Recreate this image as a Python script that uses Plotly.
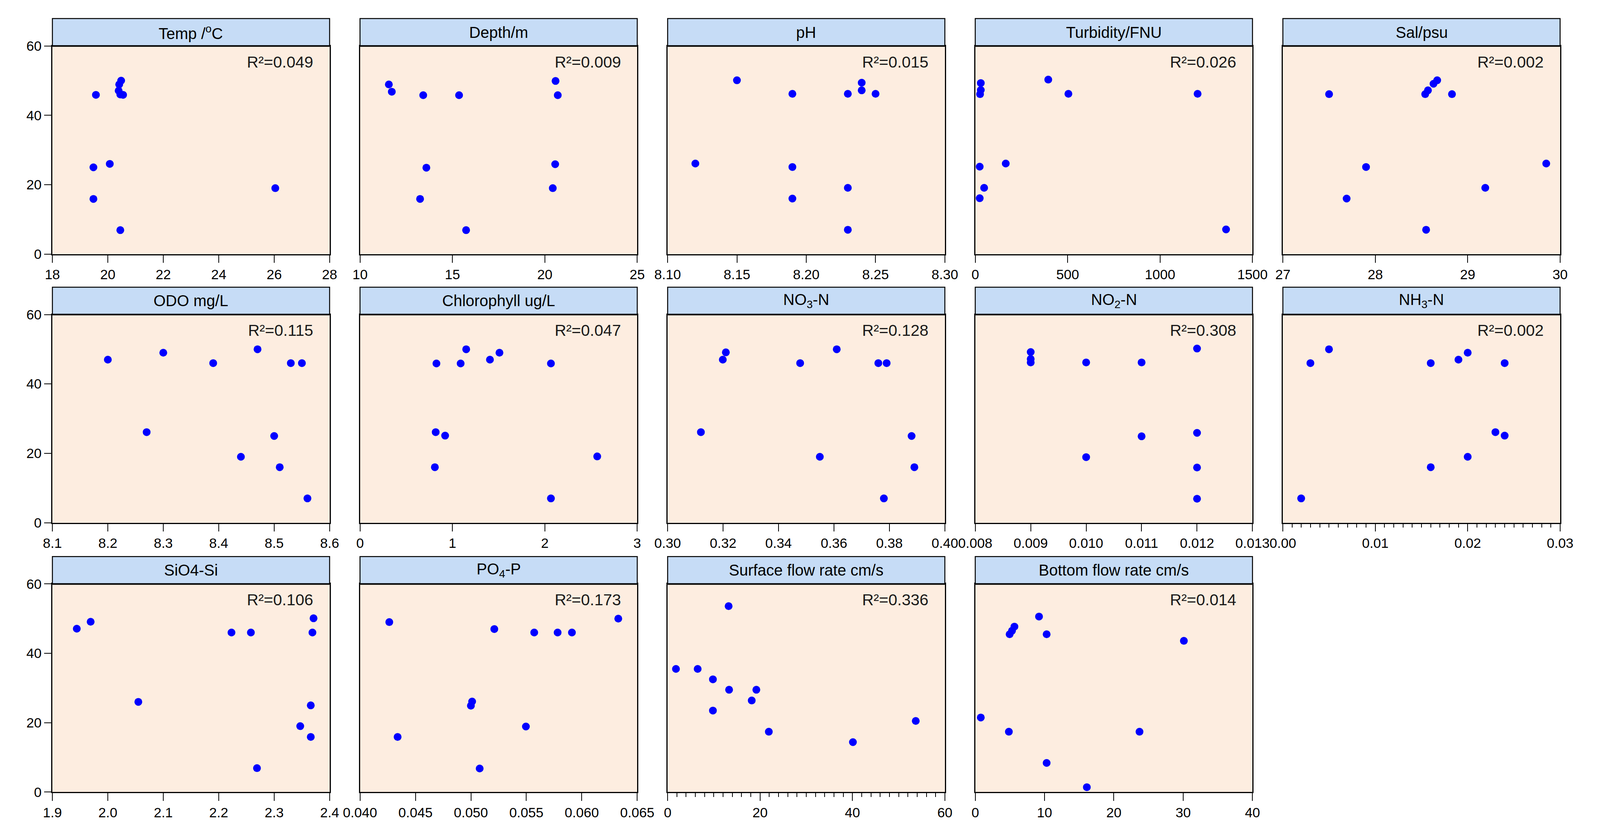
import plotly.graph_objects as go

# values, one pair of lists per panel
temp_x = [19.57, 20.48, 20.41, 20.39, 20.45, 20.55, 19.48, 20.07, 19.48, 20.45, 26.04]
temp_y = [45.9, 50.0, 48.9, 47.1, 46.0, 45.9, 25.0, 26.0, 15.9, 6.9, 19.0]

depth_x = [11.56, 11.72, 13.42, 15.36, 20.58, 20.70, 13.59, 20.56, 13.25, 20.43, 15.74]
depth_y = [48.9, 46.8, 45.8, 45.8, 49.9, 45.8, 24.9, 25.9, 15.9, 19.0, 6.9]

ph_x = [8.150, 8.190, 8.230, 8.240, 8.240, 8.250, 8.120, 8.190, 8.230, 8.190, 8.230]
ph_y = [50.1, 46.2, 46.2, 49.4, 47.2, 46.2, 26.1, 25.1, 19.1, 16.0, 7.0]

turb_x = [30, 30, 26, 395, 504, 1203, 24, 165, 48, 24, 1357]
turb_y = [49.3, 47.3, 46.1, 50.3, 46.2, 46.2, 25.2, 26.1, 19.1, 16.1, 7.1]

sal_x = [27.50, 28.54, 28.57, 28.63, 28.67, 28.83, 27.90, 29.85, 29.19, 27.69, 28.55]
sal_y = [46.1, 46.1, 47.2, 49.1, 50.1, 46.1, 25.1, 26.1, 19.1, 16.0, 7.0]

odo_x = [8.200, 8.300, 8.390, 8.470, 8.530, 8.550, 8.270, 8.500, 8.440, 8.510, 8.560]
odo_y = [47.0, 49.0, 46.0, 50.0, 46.0, 46.0, 26.1, 25.0, 19.0, 16.0, 7.0]

chl_x = [0.827, 1.089, 1.149, 1.406, 1.509, 2.066, 0.819, 0.921, 0.810, 2.567, 2.066]
chl_y = [45.9, 45.9, 50.0, 47.0, 49.0, 45.9, 26.1, 25.1, 16.0, 19.1, 7.0]

no3_x = [0.3210, 0.3199, 0.3478, 0.3610, 0.3760, 0.3790, 0.3120, 0.3880, 0.3549, 0.3890, 0.3780]
no3_y = [49.1, 47.0, 46.0, 50.0, 46.0, 46.0, 26.1, 25.0, 19.0, 16.0, 7.0]

no2_x = [0.009, 0.009, 0.009, 0.010, 0.011, 0.012, 0.012, 0.011, 0.010, 0.012, 0.012]
no2_y = [49.2, 47.2, 46.2, 46.2, 46.2, 50.2, 25.9, 24.9, 18.9, 15.9, 6.9]

nh3_x = [0.00298, 0.00499, 0.0160, 0.0190, 0.0200, 0.0240, 0.0230, 0.0240, 0.0200, 0.0160, 0.00198]
nh3_y = [46.0, 50.0, 46.0, 47.0, 49.0, 46.0, 26.1, 25.1, 19.0, 16.0, 7.0]

sio4_x = [1.944, 1.969, 2.223, 2.258, 2.371, 2.369, 2.055, 2.366, 2.347, 2.366, 2.269]
sio4_y = [47.1, 49.1, 46.0, 46.0, 50.1, 46.0, 26.0, 25.0, 19.0, 15.9, 6.9]

po4_x = [0.04264, 0.05211, 0.05571, 0.05782, 0.05911, 0.06329, 0.05011, 0.05000, 0.05496, 0.04339, 0.05079]
po4_y = [49.0, 47.0, 46.0, 46.0, 46.0, 50.0, 26.1, 24.9, 18.9, 15.9, 6.8]

surf_x = [13.2, 1.8, 6.5, 9.8, 13.3, 19.2, 18.2, 9.8, 53.7, 21.9, 40.1]
surf_y = [53.6, 35.5, 35.5, 32.5, 29.5, 29.5, 26.4, 23.5, 20.5, 17.4, 14.4]

bot_x = [9.2, 5.65, 5.3, 4.96, 10.3, 30.1, 0.8, 4.85, 23.7, 10.3, 16.1]
bot_y = [50.6, 47.7, 46.5, 45.5, 45.5, 43.6, 21.5, 17.4, 17.4, 8.4, 1.4]

titles = ["Temp /<sup>o</sup>C", "Depth/m", "pH", "Turbidity/FNU", "Sal/psu",
          "ODO mg/L", "Chlorophyll ug/L", "NO<sub>3</sub>-N", "NO<sub>2</sub>-N", "NH<sub>3</sub>-N",
          "SiO4-Si", "PO<sub>4</sub>-P", "Surface flow rate cm/s", "Bottom flow rate cm/s"]
r2_labels = ["0.049", "0.009", "0.015", "0.026", "0.002",
             "0.115", "0.047", "0.128", "0.308", "0.002",
             "0.106", "0.173", "0.336", "0.014"]
xs = [temp_x, depth_x, ph_x, turb_x, sal_x, odo_x, chl_x, no3_x, no2_x, nh3_x,
      sio4_x, po4_x, surf_x, bot_x]
ys = [temp_y, depth_y, ph_y, turb_y, sal_y, odo_y, chl_y, no3_y, no2_y, nh3_y,
      sio4_y, po4_y, surf_y, bot_y]

# axis range, tick step, tick format, minor tick step
x_axes = [
    ([18, 28], 2, "d", None),
    ([10, 25], 5, "d", None),
    ([8.10, 8.30], 0.05, ".2f", None),
    ([0, 1500], 500, "d", None),
    ([27, 30], 1, "d", None),
    ([8.1, 8.6], 0.1, ".1f", None),
    ([0, 3], 1, "d", None),
    ([0.30, 0.40], 0.02, ".2f", None),
    ([0.008, 0.013], 0.001, ".3f", None),
    ([0, 0.03], 0.01, ".2f", 0.001),
    ([1.9, 2.4], 0.1, ".1f", None),
    ([0.040, 0.065], 0.005, ".3f", None),
    ([0, 60], 20, "d", 2),
    ([0, 40], 10, "d", None),
]

# panel grid measured on the 4618x2146 reference, used as fractions
RW, RH = 4618, 2146
PW, PH, HDR = 821, 547, 72
col_left = [95 + 911 * c for c in range(5)]
row_top = [92, 798, 1506]

# the page viewport is 4096 wide, body keeps its 8px margin
W, H = 4080, 2130

FONT = "Liberation Sans, Arial, sans-serif"

fig = go.Figure()
layout = {}
shapes = []
annotations = []

for k in range(14):
    r, c = divmod(k, 5)
    n = "" if k == 0 else str(k + 1)
    left, top = col_left[c], row_top[r]
    rng, dt, fmt, minor = x_axes[k]

    fig.add_trace(go.Scatter(
        x=xs[k], y=ys[k], mode="markers", xaxis="x" + n, yaxis="y" + n,
        marker=dict(color="#0000FF", size=20, line=dict(width=0)),
        showlegend=False, hoverinfo="x+y"))

    xa = dict(domain=[left / RW, (left + PW) / RW], anchor="y" + n,
              range=rng, tick0=rng[0], dtick=dt, tickformat=fmt,
              ticks="outside", ticklen=20, tickwidth=2, tickcolor="black",
              showline=True, linecolor="black", linewidth=2.5, mirror=True,
              showgrid=False, zeroline=False,
              tickfont=dict(size=35, color="black", family=FONT))
    if minor:
        xa["minor"] = dict(dtick=minor, ticks="outside", ticklen=10,
                           tickwidth=1.5, tickcolor="black", showgrid=False)
    ya = dict(domain=[1 - (top + PH) / RH, 1 - top / RH], anchor="x" + n,
              range=[0, 60], dtick=20, showticklabels=(c == 0),
              ticks="outside" if c == 0 else "", ticklen=18, tickwidth=2,
              tickcolor="black", showline=True, linecolor="black",
              linewidth=2.5, mirror=True, showgrid=False, zeroline=False,
              tickfont=dict(size=35, color="black", family=FONT))
    layout["xaxis" + n] = xa
    layout["yaxis" + n] = ya

    # blue title strip sitting on top of each panel
    shapes.append(dict(type="rect", xref="x" + n + " domain", yref="y" + n + " domain",
                       x0=0, x1=1, y0=1, y1=1 + HDR / PH,
                       fillcolor="#C6DCF6", line=dict(color="black", width=2.5)))
    shapes.append(dict(type="line", xref="x" + n + " domain", yref="y" + n + " domain",
                       x0=0, x1=1, y0=1, y1=1, line=dict(color="black", width=4)))
    annotations.append(dict(text=titles[k], xref="x" + n + " domain", yref="y" + n + " domain",
                            x=0.5, y=1 + HDR / 2 / PH, xanchor="center", yanchor="middle",
                            showarrow=False, font=dict(size=40, color="black", family=FONT)))
    annotations.append(dict(text="R²=" + r2_labels[k], xref="x" + n + " domain",
                            yref="y" + n + " domain", x=1 - 46 / PW, y=1 - 42 / PH,
                            xanchor="right", yanchor="middle", showarrow=False,
                            font=dict(size=41, color="#1a1a1a", family=FONT)))

fig.update_layout(**layout)
fig.update_layout(
    width=W, height=H,
    margin=dict(l=0, r=0, t=0, b=0),
    paper_bgcolor="white",
    plot_bgcolor="#FDEDE0",
    font=dict(family=FONT, color="black"),
    shapes=shapes,
    annotations=annotations,
)

fig.write_html("out.html")
